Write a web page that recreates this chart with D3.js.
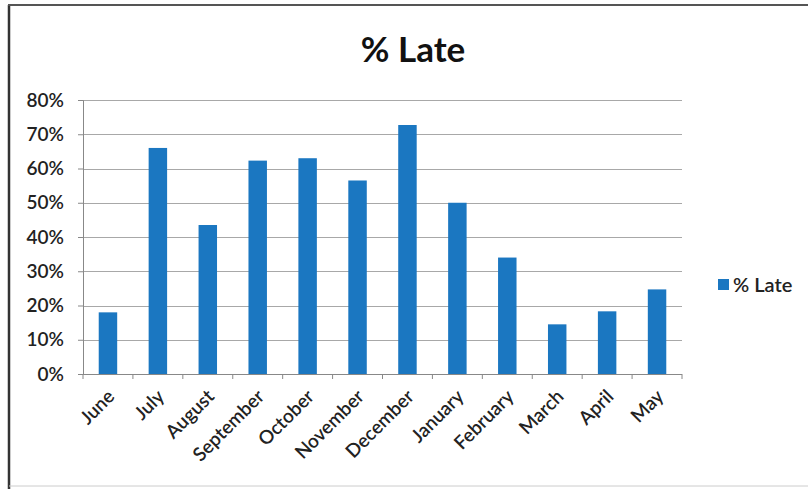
<!DOCTYPE html>
<html><head><meta charset="utf-8">
<script src="https://cdn.jsdelivr.net/npm/d3@7/dist/d3.min.js"></script>
<style>body{margin:0;background:#fff}svg{display:block}text{font-family:Lato,"Open Sans",sans-serif}</style>
</head><body>
<svg id="c" width="808" height="489"></svg>
<script>
const categories = ["June","July","August","September","October","November","December","January","February","March","April","May"];
const lateValues = [0.18,0.66,0.435,0.623,0.63,0.565,0.727,0.50,0.34,0.145,0.183,0.247];
const yTicks = [0,0.1,0.2,0.3,0.4,0.5,0.6,0.7,0.8];
const seriesName = "% Late";
const titleText = "% Late";

const svg = d3.select("#c");
const m = {left:83, right:682, top:100, bottom:374};
const barColor = "#1b77c1";

// border
svg.append("line").attr("x1",9).attr("x2",9).attr("y1",5).attr("y2",489).attr("stroke","#333").attr("stroke-width",2.5);
svg.append("line").attr("x1",8).attr("x2",808).attr("y1",5).attr("y2",5).attr("stroke","#555").attr("stroke-width",2);
svg.append("line").attr("x1",9).attr("x2",808).attr("y1",486).attr("y2",486).attr("stroke","#ccc").attr("stroke-width",1);

const x = d3.scaleBand().domain(categories).range([m.left,m.right]).paddingInner(0.63).paddingOuter(0.315);
const y = d3.scaleLinear().domain([0,0.8]).range([m.bottom,m.top]);

// gridlines
svg.append("g").selectAll("line").data(yTicks).join("line")
  .attr("x1",m.left).attr("x2",m.right)
  .attr("y1",d=>Math.round(y(d))+0.5).attr("y2",d=>Math.round(y(d))+0.5)
  .attr("stroke","#a8a8a8").attr("stroke-width",1);

// y axis
const yAxis = svg.append("g").attr("transform",`translate(${m.left},0)`)
  .call(d3.axisLeft(y).tickValues(yTicks).tickFormat(d3.format(".0%")).tickSize(5).tickPadding(14));
yAxis.select(".domain").attr("stroke","#888");
yAxis.selectAll(".tick line").attr("stroke","#888");
yAxis.selectAll("text").attr("font-size",19).attr("fill","#222").attr("font-weight",600);

// bars
svg.append("g").selectAll("rect").data(lateValues).join("rect")
  .attr("x",(d,i)=>x(categories[i]))
  .attr("width",x.bandwidth())
  .attr("y",d=>y(d))
  .attr("height",d=>y(0)-y(d))
  .attr("fill",barColor);

// x axis
const step = x.step();
const xAxis = svg.append("g").attr("transform",`translate(0,${m.bottom})`);
xAxis.append("line").attr("x1",m.left).attr("x2",m.right).attr("y1",0.5).attr("y2",0.5).attr("stroke","#888");
xAxis.selectAll(".tk").data(d3.range(categories.length+1)).join("line").attr("class","tk")
  .attr("x1",i=>m.left+i*step).attr("x2",i=>m.left+i*step).attr("y1",0).attr("y2",5).attr("stroke","#888");
xAxis.selectAll("text").data(categories).join("text")
  .attr("transform",d=>`translate(${x(d)+x.bandwidth()/2+3},${19}) rotate(-45)`)
  .attr("text-anchor","end").attr("dy","0.35em")
  .attr("font-size",19).attr("fill","#222").attr("font-weight",600)
  .text(d=>d);

// title
svg.append("text").attr("x",413).attr("y",62).attr("text-anchor","middle")
  .attr("font-size",35).attr("font-weight",700).attr("fill","#111").text(titleText);

// legend
svg.append("rect").attr("x",718).attr("y",279).attr("width",11).attr("height",11).attr("fill",barColor);
svg.append("text").attr("x",733).attr("y",285).attr("dy","0.35em").attr("font-size",20).attr("font-weight",600).attr("fill","#222").text(seriesName);
</script>
</body></html>
